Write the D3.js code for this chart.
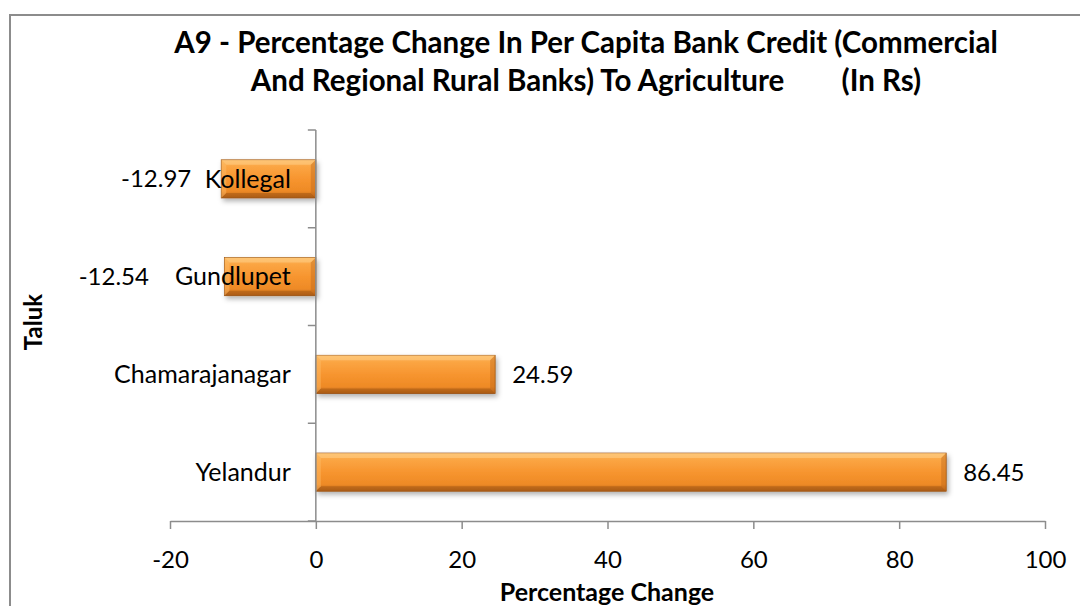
<!DOCTYPE html>
<html lang="en">
<head>
  <meta charset="UTF-8">
  <title>A9 - Percentage Change In Per Capita Bank Credit</title>
  <script src="https://cdn.jsdelivr.net/npm/d3@7"></script>
  <style>
    body { margin: 0; background: #fff; }
    text { font-family: Lato, "Open Sans", sans-serif; fill: #000; }
  </style>
</head>
<body>
  <div id="chart"></div>
  <script>
    // Data
    const taluks = ["Kollegal", "Gundlupet", "Chamarajanagar", "Yelandur"];
    const changes = [-12.97, -12.54, 24.59, 86.45];
    const xTicks = [-20, 0, 20, 40, 60, 80, 100];
    const titleLines = [
      "A9 - Percentage Change In Per Capita Bank Credit (Commercial",
      "And Regional Rural Banks) To Agriculture        (In Rs)"
    ];

    const W = 1080, H = 606;
    const svg = d3.select("#chart").append("svg")
      .attr("width", W).attr("height", H);

    // Chart area border (runs off right and bottom)
    svg.append("rect")
      .attr("x", 10).attr("y", 15)
      .attr("width", 1100).attr("height", 620)
      .attr("fill", "#fff")
      .attr("stroke", "#8c8c8c").attr("stroke-width", 2);

    // Gradients for bevelled bars
    const defs = svg.append("defs");
    const grad = defs.append("linearGradient").attr("id", "barGrad")
      .attr("x1", 0).attr("y1", 0).attr("x2", 0).attr("y2", 1);
    [[0, "#fcb75a"], [0.18, "#fba543"], [0.5, "#f7952f"], [0.82, "#ee8a26"], [1, "#b8641c"]]
      .forEach(([o, c]) => grad.append("stop").attr("offset", o).attr("stop-color", c));
    const f = defs.append("filter").attr("id", "shadow")
      .attr("x", "-10%").attr("y", "-30%").attr("width", "120%").attr("height", "170%");
    f.append("feDropShadow").attr("dx", 2).attr("dy", 3).attr("stdDeviation", 2.5)
      .attr("flood-color", "#000").attr("flood-opacity", 0.3);

    const x = d3.scaleLinear().domain([-20, 100]).range([170, 1045]);
    const y = d3.scaleBand().domain(taluks).range([130, 521]).paddingInner(0.61).paddingOuter(0.305);
    const yOuter = d3.scaleBand().domain(taluks).range([130, 521]);

    // Title
    svg.append("text")
      .attr("text-anchor", "middle")
      .style("font-size", "29.5px").style("font-weight", "bold")
      .selectAll("tspan").data(titleLines).join("tspan")
        .attr("x", 586).attr("y", (d, i) => 53 + i * 38)
        .style("white-space", "pre")
        .text(d => d);

    // X axis
    const xAxis = svg.append("g")
      .attr("transform", "translate(0,521)")
      .call(d3.axisBottom(x).tickValues(xTicks).tickFormat(d => String(d))
        .tickSize(8).tickSizeOuter(0).tickPadding(22));
    xAxis.select(".domain").attr("stroke", "#8c8c8c").attr("stroke-width", 1.5);
    xAxis.selectAll(".tick line").attr("stroke", "#8c8c8c").attr("stroke-width", 1.5);
    xAxis.selectAll(".tick text").style("font-size", "24px")
      .style("font-family", "Lato, 'Open Sans', sans-serif").attr("fill", "#000");

    // Bars
    const bars = svg.append("g").selectAll("g.bar")
      .data(taluks.map((t, i) => ({ t, v: changes[i] })))
      .join("g").attr("class", "bar");

    bars.append("rect")
      .attr("x", d => x(Math.min(0, d.v)))
      .attr("y", d => y(d.t))
      .attr("width", d => Math.abs(x(d.v) - x(0)))
      .attr("height", y.bandwidth())
      .attr("fill", "url(#barGrad)")
      .attr("stroke", "#9a5414").attr("stroke-width", 0.8)
      .attr("filter", "url(#shadow)");

    // Bevel edges: lighter top band, darker bottom band
    const bev = 5;
    bars.append("path")
      .attr("d", d => {
        const x0 = x(Math.min(0, d.v)), x1 = x(Math.max(0, d.v)), y0 = y(d.t);
        return `M${x0},${y0}L${x1},${y0}L${x1 - bev},${y0 + bev}L${x0 + bev},${y0 + bev}Z`;
      })
      .attr("fill", "#ffd08a").attr("opacity", 0.55);
    bars.append("path")
      .attr("d", d => {
        const x0 = x(Math.min(0, d.v)), x1 = x(Math.max(0, d.v)), y1 = y(d.t) + y.bandwidth();
        return `M${x0},${y1}L${x1},${y1}L${x1 - bev},${y1 - bev}L${x0 + bev},${y1 - bev}Z`;
      })
      .attr("fill", "#9c5210").attr("opacity", 0.45);
    bars.append("path")
      .attr("d", d => {
        const x1 = x(Math.max(0, d.v)), y0 = y(d.t), y1 = y0 + y.bandwidth();
        return `M${x1},${y0}L${x1},${y1}L${x1 - bev},${y1 - bev}L${x1 - bev},${y0 + bev}Z`;
      })
      .attr("fill", "#b86418").attr("opacity", 0.4);
    bars.append("path")
      .attr("d", d => {
        const x0 = x(Math.min(0, d.v)), y0 = y(d.t), y1 = y0 + y.bandwidth();
        return `M${x0},${y0}L${x0},${y1}L${x0 + bev},${y1 - bev}L${x0 + bev},${y0 + bev}Z`;
      })
      .attr("fill", "#ffc070").attr("opacity", 0.4);

    // Y axis (category axis sits at x = 0)
    const yAxis = svg.append("g")
      .attr("transform", `translate(${x(0)},0)`);
    yAxis.append("line")
      .attr("x1", 0).attr("x2", 0).attr("y1", 130).attr("y2", 521)
      .attr("stroke", "#8c8c8c").attr("stroke-width", 1.5);
    yAxis.selectAll("line.tick")
      .data(taluks.map(t => yOuter(t)).concat([521]))
      .join("line").attr("class", "tick")
      .attr("x1", -8).attr("x2", 0).attr("y1", d => d).attr("y2", d => d)
      .attr("stroke", "#8c8c8c").attr("stroke-width", 1.5);

    // Category labels
    const catLabels = svg.append("g").selectAll("text")
      .data(taluks).join("text")
      .attr("x", x(0) - 25)
      .attr("y", d => y(d) + y.bandwidth() / 2)
      .attr("dy", "0.35em")
      .attr("text-anchor", "end")
      .style("font-size", "25px")
      .text(d => d);
    const catStart = catLabels.nodes().map(n => x(0) - 25 - n.getComputedTextLength());

    // Value labels (negative ones pushed left of the category label if they collide)
    svg.append("g").selectAll("text")
      .data(changes).join("text")
      .attr("x", (d, i) => {
        if (d >= 0) return x(d) + 17;
        const pos = x(d) - 30;
        return pos > catStart[i] - 10 ? catStart[i] - 26 : pos;
      })
      .attr("y", (d, i) => y(taluks[i]) + y.bandwidth() / 2)
      .attr("dy", "0.35em")
      .attr("text-anchor", d => d < 0 ? "end" : "start")
      .style("font-size", "24px")
      .text(d => d.toFixed(2));

    // Axis titles
    svg.append("text")
      .attr("x", 607).attr("y", 601)
      .attr("text-anchor", "middle")
      .style("font-size", "25px").style("font-weight", "bold")
      .text("Percentage Change");
    svg.append("text")
      .attr("transform", "translate(42,322) rotate(-90)")
      .attr("text-anchor", "middle")
      .style("font-size", "24px").style("font-weight", "bold")
      .text("Taluk");
  </script>
</body>
</html>
